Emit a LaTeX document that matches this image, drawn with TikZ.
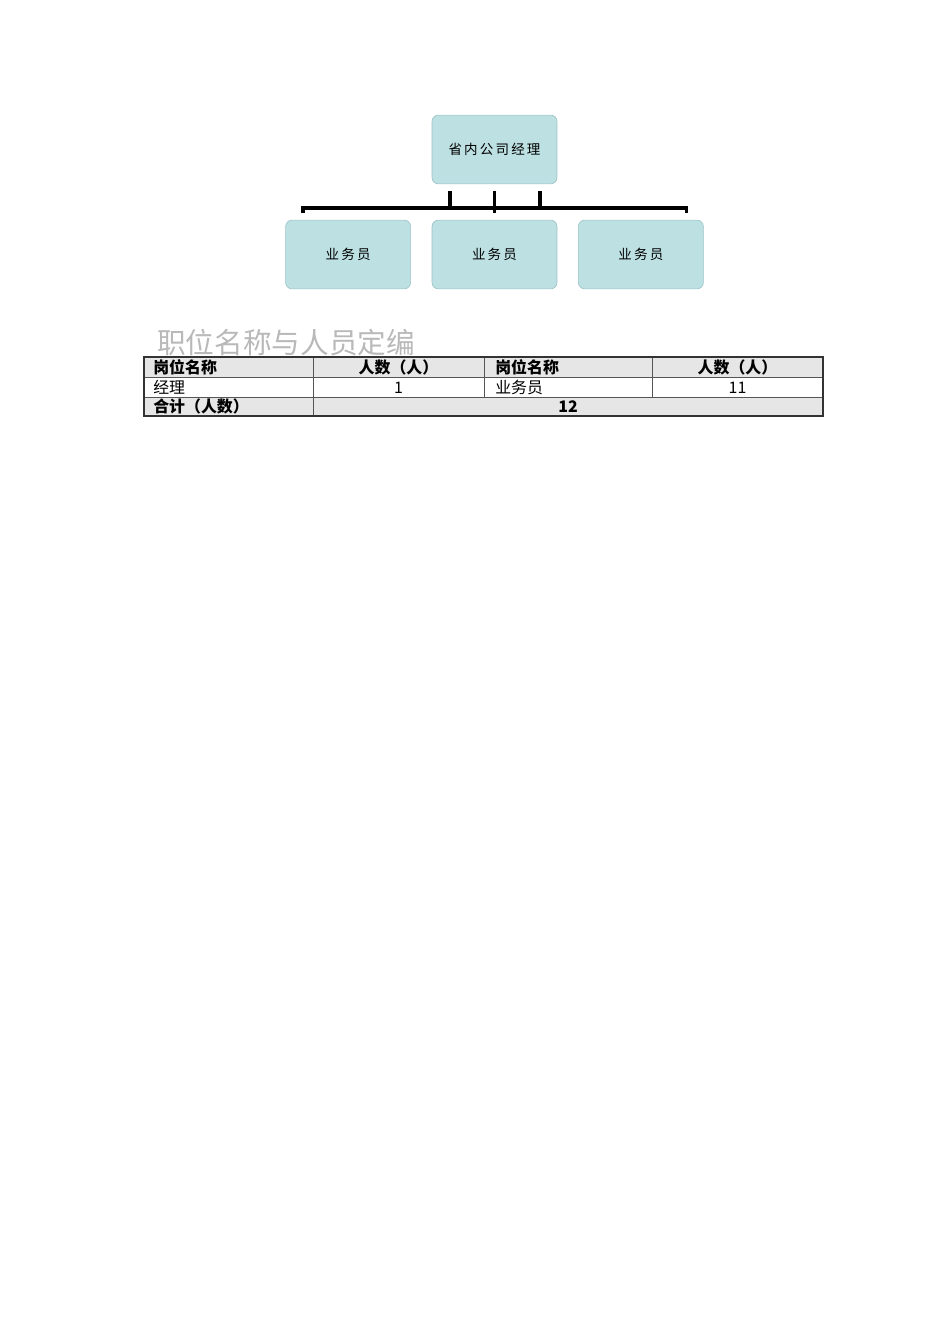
\documentclass[tikz,border=0pt]{standalone}
\usepackage{fontspec}
\setmainfont{Noto Sans CJK SC}
\usetikzlibrary{positioning}
\definecolor{boxfill}{HTML}{BDE0E3}
\definecolor{boxline}{HTML}{9CC3C7}
\definecolor{cellgray}{HTML}{E6E6E6}
\definecolor{gridgray}{HTML}{555555}
\tikzset{
	orgbox/.style={draw=boxline, fill=boxfill, rounded corners=4pt,
		minimum width=2.76cm, minimum height=1.52cm,
		font=\fontsize{8.5}{10}\selectfont\addfontfeature{LetterSpace=16}},
	bracket/.style={line width=1.9pt},
	tabline/.style={draw=gridgray, line width=0.6pt},
	cell/.style={inner sep=0pt, font=\fontsize{10}{11}\selectfont},
	headcell/.style={cell, font=\fontsize{10}{11}\selectfont\bfseries},
}

\begin{document}
\begin{tikzpicture}[x=0.0221cm, y=-0.0221cm]
		\useasboundingbox[fill=white] (0, 0) rectangle (950, 1344);
		% org chart
		\node[orgbox] (mgr) at (494.5, 149.5) {省内公司经理};
		\node[orgbox] (staffb) at (494.5, 254.5) {业务员};
		\node[orgbox, left=0.46cm of staffb] (staffa) {业务员};
		\node[orgbox, right=0.46cm of staffb] (staffc) {业务员};
		\coordinate (barl) at (303, 208);
		\coordinate (barr) at (686, 208);
		\draw[bracket] ([yshift=-0.11cm]barl) -- (barl) -- (barr) -- ([yshift=-0.11cm]barr);
		\foreach \dx/\len in {-44.5/17, 0/22, 45.5/17}
			\draw[bracket] (mgr.south) ++(\dx, 7) -- ++(0, \len);
		% title
		\node[anchor=base west, inner sep=0pt, text=gray!55,
			font=\fontsize{18}{20}\selectfont] (title) at (157, 354) {职位名称与人员定编};
		% table
		\fill[cellgray] (144, 357) rectangle (823, 377);
		\fill[cellgray] (144, 397) rectangle (823, 416);
		\draw[tabline] (144, 377) -- (823, 377);
		\draw[tabline] (144, 397) -- (823, 397);
		\draw[tabline] (313, 357) -- (313, 416);
		\foreach \x in {484, 652}
			\draw[tabline] (\x, 357) -- (\x, 397);
		\draw[line width=0.7pt, black!80] (144, 357) rectangle (823, 416);
		\node[headcell, anchor=base west] (posa) at (153, 374) {岗位名称};
		\node[headcell, anchor=base] (numa) at (398.5, 374) {人数（人）};
		\node[headcell, anchor=base west] (posb) at (495, 374) {岗位名称};
		\node[headcell, anchor=base] (numb) at (737.5, 374) {人数（人）};
		\node[cell, anchor=base west] (mgrname) at (153, 394) {经理};
		\node[cell, anchor=base] (mgrnum) at (398.5, 394) {1};
		\node[cell, anchor=base west] (staffname) at (495, 394) {业务员};
		\node[cell, anchor=base] (staffnum) at (737.5, 394) {11};
		\node[headcell, anchor=base west] (sumlabel) at (153, 413) {合计（人数）};
		\node[headcell, anchor=base] (sumnum) at (568, 413) {12};
	\end{tikzpicture}
\end{document}
